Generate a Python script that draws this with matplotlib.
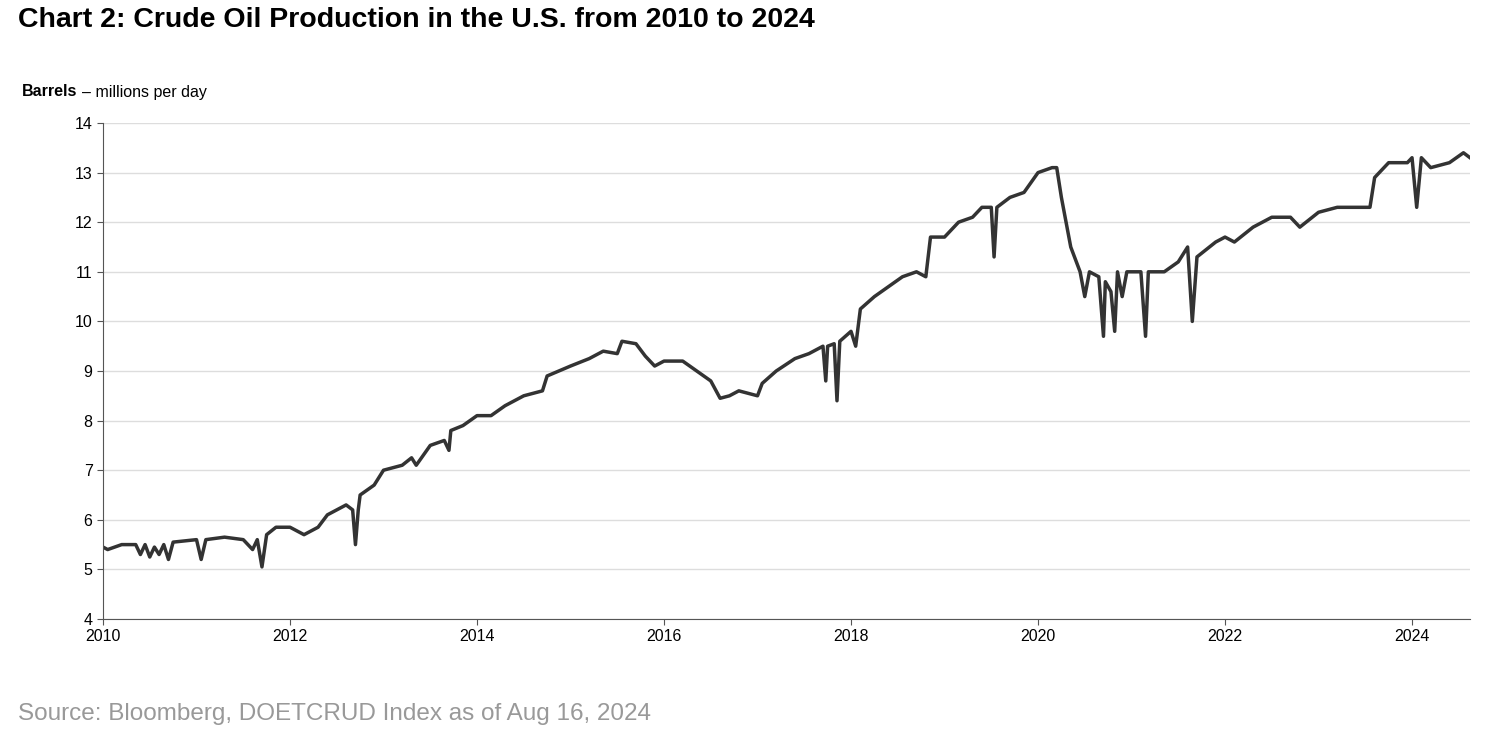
import matplotlib
matplotlib.use("Agg")
import matplotlib.pyplot as plt
plt.rcParams["font.family"] = "Liberation Sans"

years = [2010.0,2010.05,2010.2,2010.35,2010.4,2010.45,2010.5,2010.55,2010.6,2010.65,2010.7,2010.75,2011.0,2011.05,2011.1,2011.3,2011.5,2011.6,2011.65,2011.7,2011.75,2011.85,2012.0,2012.15,2012.3,2012.4,2012.5,2012.6,2012.67,2012.7,2012.73,2012.75,2012.9,2013.0,2013.2,2013.3,2013.35,2013.5,2013.65,2013.7,2013.72,2013.85,2014.0,2014.15,2014.3,2014.5,2014.7,2014.75,2015.0,2015.2,2015.35,2015.5,2015.55,2015.7,2015.8,2015.9,2016.0,2016.2,2016.35,2016.5,2016.6,2016.7,2016.8,2017.0,2017.05,2017.2,2017.4,2017.55,2017.7,2017.73,2017.75,2017.82,2017.85,2017.88,2018.0,2018.05,2018.1,2018.25,2018.4,2018.55,2018.7,2018.8,2018.85,2019.0,2019.15,2019.3,2019.4,2019.5,2019.53,2019.56,2019.7,2019.85,2020.0,2020.15,2020.2,2020.25,2020.35,2020.45,2020.5,2020.55,2020.65,2020.7,2020.72,2020.78,2020.82,2020.85,2020.9,2020.95,2021.1,2021.15,2021.18,2021.35,2021.5,2021.6,2021.65,2021.7,2021.9,2022.0,2022.1,2022.3,2022.5,2022.7,2022.8,2023.0,2023.2,2023.4,2023.55,2023.6,2023.75,2023.95,2024.0,2024.05,2024.1,2024.2,2024.4,2024.55,2024.62]
production = [5.45,5.4,5.5,5.5,5.3,5.5,5.25,5.45,5.3,5.5,5.2,5.55,5.6,5.2,5.6,5.65,5.6,5.4,5.6,5.05,5.7,5.85,5.85,5.7,5.85,6.1,6.2,6.3,6.2,5.5,6.2,6.5,6.7,7.0,7.1,7.25,7.1,7.5,7.6,7.4,7.8,7.9,8.1,8.1,8.3,8.5,8.6,8.9,9.1,9.25,9.4,9.35,9.6,9.55,9.3,9.1,9.2,9.2,9.0,8.8,8.45,8.5,8.6,8.5,8.75,9.0,9.25,9.35,9.5,8.8,9.5,9.55,8.4,9.6,9.8,9.5,10.25,10.5,10.7,10.9,11.0,10.9,11.7,11.7,12.0,12.1,12.3,12.3,11.3,12.3,12.5,12.6,13.0,13.1,13.1,12.5,11.5,11.0,10.5,11.0,10.9,9.7,10.8,10.6,9.8,11.0,10.5,11.0,11.0,9.7,11.0,11.0,11.2,11.5,10.0,11.3,11.6,11.7,11.6,11.9,12.1,12.1,11.9,12.2,12.3,12.3,12.3,12.9,13.2,13.2,13.3,12.3,13.3,13.1,13.2,13.4,13.3]
xticks = [2010,2012,2014,2016,2018,2020,2022,2024]
yticks = [4,5,6,7,8,9,10,11,12,13,14]

fig = plt.figure(figsize=(15,7.44), dpi=100)
ax = fig.add_axes([103/1500, 1-619/744, (1470-103)/1500, (619-123)/744])
ax.plot(years, production, color="#333333", lw=2.5)
ax.set_xlim(2010, 2024.62)
ax.set_ylim(4, 14)
ax.set_xticks(xticks)
ax.set_yticks(yticks)
ax.tick_params(labelsize=11.5, length=4, color="#555555")
ax.grid(axis="y", color="#dddddd", lw=1)
for s in ["top","right"]:
    ax.spines[s].set_visible(False)
ax.spines["left"].set_color("#555555")
ax.spines["bottom"].set_color("#555555")
ax.set_axisbelow(True)

fig.text(18/1500, 1-20/744, "Chart 2: Crude Oil Production in the U.S. from 2010 to 2024", fontsize=20.5, fontweight="bold", va="center")
fig.text(22/1500, 1-92/744, "Barrels", fontsize=11.5, fontweight="bold", va="center")
fig.text(82/1500, 1-92/744, "– millions per day", fontsize=11.5, va="center")
fig.text(18/1500, 1-714/744, "Source: Bloomberg, DOETCRUD Index as of Aug 16, 2024", fontsize=17.5, color="#999999", va="center")
fig.savefig("out.png", dpi=100)
